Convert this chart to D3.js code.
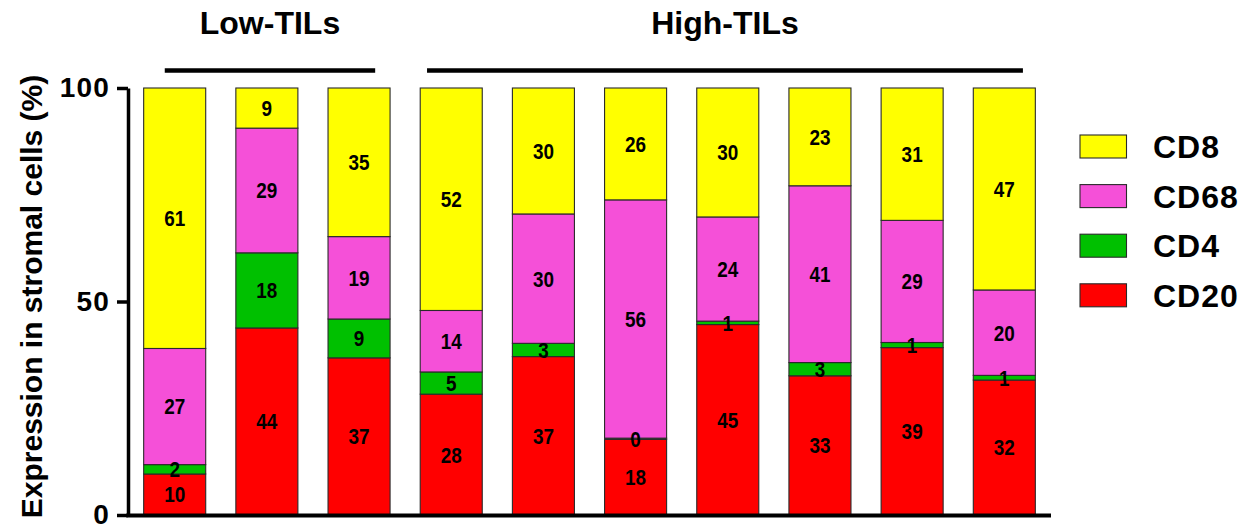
<!DOCTYPE html>
<html>
<head>
<meta charset="utf-8">
<script src="https://cdn.jsdelivr.net/npm/d3@7/dist/d3.min.js"></script>
<style>
  html, body { margin: 0; padding: 0; background: #fff; }
  svg { display: block; font-family: "Liberation Sans", Arial, sans-serif; }
</style>
</head>
<body>
<svg id="chart" width="1252" height="529"></svg>
<script>
// ---- data ----
const samples = ["S1","S2","S3","S4","S5","S6","S7","S8","S9","S10"];
const groupNames = ["Low-TILs","High-TILs"];
const groupOf = ["Low-TILs","Low-TILs","Low-TILs","High-TILs","High-TILs","High-TILs","High-TILs","High-TILs","High-TILs","High-TILs"];
const markers = ["CD20","CD4","CD68","CD8"];           // stacking order, bottom to top
const legendOrder = ["CD8","CD68","CD4","CD20"];
const CD20 = [9.6, 43.8, 36.8, 28.3, 37.1, 17.7, 44.6, 32.6, 39.2, 31.6];
const CD4  = [2.2, 17.6,  9.1,  5.2,  3.1,  0.3,  0.8,  3.1,  1.2,  1.1];
const CD68 = [27.2, 29.2, 19.3, 14.4, 30.3, 55.8, 24.4, 41.4, 28.6, 20.0];
const CD8  = [61.0,  9.4, 34.8, 52.1, 29.5, 26.2, 30.2, 22.9, 31.0, 47.3];
const yTicks = [0, 50, 100];
const yTitle = "Expression in stromal cells (%)";
const colors = { CD8: "#FFFF00", CD68: "#F550D8", CD4: "#00C000", CD20: "#FF0000" };

// ---- build table ----
const seriesVals = { CD20, CD4, CD68, CD8 };
const table = samples.map((s, i) => {
  const row = { sample: s, group: groupOf[i] };
  markers.forEach(m => row[m] = seriesVals[m][i]);
  return row;
});
const stacked = d3.stack().keys(markers)(table);

const svg = d3.select("#chart");

const x = d3.scaleBand().domain(samples).range([128, 1051])
  .paddingInner(0.327).paddingOuter(0.17);
const y = d3.scaleLinear().domain([0, 100]).range([515, 88]);
const bw = x.bandwidth();

// bars
const layers = svg.append("g").selectAll("g").data(stacked).join("g")
  .attr("fill", d => colors[d.key]);
layers.selectAll("rect").data(d => d).join("rect")
  .attr("x", d => x(d.data.sample))
  .attr("y", d => y(d[1]))
  .attr("width", bw)
  .attr("height", d => y(d[0]) - y(d[1]))
  .attr("stroke", "#2a2a2a")
  .attr("stroke-width", 1.1);

// value labels
const labelG = svg.append("g").attr("font-size", 22).attr("font-weight", "bold")
  .attr("text-anchor", "middle").attr("fill", "#000");
stacked.forEach(layer => {
  layer.forEach(d => {
    const cx = x(d.data.sample) + bw / 2;
    const cy = (y(d[0]) + y(d[1])) / 2;
    labelG.append("text")
      .attr("transform", `translate(${cx},${cy}) scale(0.86,1)`)
      .attr("dy", "0.36em")
      .text(Math.round(d[1] - d[0]));
  });
});

// y axis
const yAxis = svg.append("g").attr("transform", "translate(128,0)")
  .call(d3.axisLeft(y).tickValues(yTicks).tickSize(11).tickSizeOuter(0).tickPadding(7));
yAxis.select(".domain").attr("stroke", "#000").attr("stroke-width", 3.5);
yAxis.selectAll(".tick line").attr("stroke", "#000").attr("stroke-width", 3.5);
yAxis.selectAll(".tick text").attr("font-size", 28).attr("font-weight", "bold")
  .attr("font-family", "Liberation Sans, Arial, sans-serif")
  .attr("letter-spacing", 1.2).attr("fill", "#000");

// x axis line
svg.append("line")
  .attr("x1", 126.25).attr("x2", x.range()[1])
  .attr("y1", y(0) + 0.5).attr("y2", y(0) + 0.5)
  .attr("stroke", "#000").attr("stroke-width", 4);

// y title
svg.append("text")
  .attr("transform", `translate(42,${(68 + 525) / 2}) rotate(-90)`)
  .attr("text-anchor", "middle")
  .attr("font-size", 30).attr("font-weight", "bold")
  .attr("fill", "#000")
  .text(yTitle);

// group brackets and titles
const bracketFrac = { "Low-TILs": [0.34, 0.76], "High-TILs": [0.11, 0.8] };
groupNames.forEach(g => {
  const members = samples.filter((s, i) => groupOf[i] === g);
  const x1 = x(members[0]) + bracketFrac[g][0] * bw;
  const x2 = x(members[members.length - 1]) + bracketFrac[g][1] * bw;
  svg.append("line").attr("x1", x1).attr("x2", x2)
    .attr("y1", 70.5).attr("y2", 70.5)
    .attr("stroke", "#000").attr("stroke-width", 4.5);
  svg.append("text").attr("x", (x1 + x2) / 2).attr("y", 34)
    .attr("text-anchor", "middle").attr("font-size", 32).attr("font-weight", "bold")
    .attr("fill", "#000").text(g);
});

// legend
const leg = svg.append("g").attr("transform", "translate(1080,135)");
legendOrder.forEach((m, i) => {
  const gi = leg.append("g").attr("transform", `translate(0,${i * 49.6})`);
  gi.append("rect").attr("width", 46.5).attr("height", 23)
    .attr("fill", colors[m]).attr("stroke", "#2a2a2a").attr("stroke-width", 1.1);
  gi.append("text").attr("x", 73).attr("y", 11.5).attr("dy", "0.36em")
    .attr("font-size", 32).attr("font-weight", "bold").attr("letter-spacing", 1)
    .attr("fill", "#000").text(m);
});
</script>
</body>
</html>
